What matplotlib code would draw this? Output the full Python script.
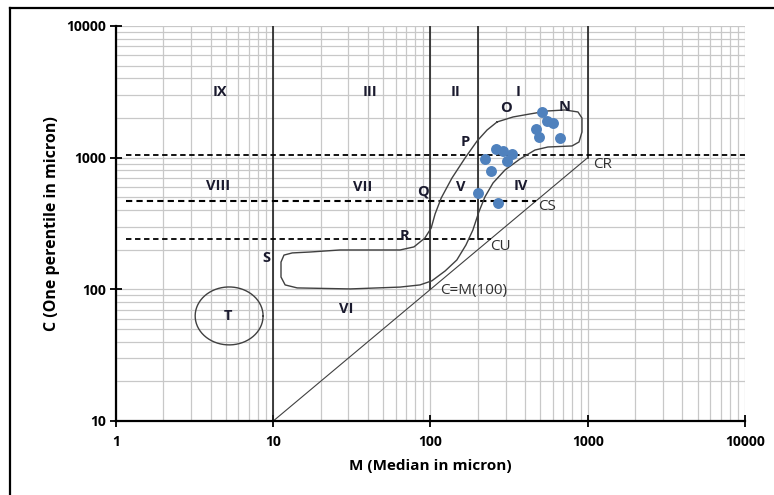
import numpy as np
import matplotlib.pyplot as plt
from matplotlib.lines import Line2D

plt.rcParams['font.family'] = ['Open Sans', 'DejaVu Sans']

# ******** sample points (M, C) ********
M_pts = [509, 548, 604, 469, 492, 666, 261, 290, 328, 222, 305, 241, 200, 270]
C_pts = [2213, 1909, 1844, 1643, 1443, 1404, 1164, 1124, 1067, 978, 944, 793, 542, 455]

# ******** limit lines ********
CR, CS, CU = 1050, 470, 241

# outline of the N-O-P-Q-R-S field, (M, C) pairs
outline_M = [265, 229, 198, 166, 137, 117, 107, 101, 92, 78.5, 64, 41, 26.6, 17.1, 13.2,
             11.7, 11.2, 11.2, 11.9, 14.2, 30.8, 64, 85.7, 102, 124, 147, 168, 186, 203,
             222, 250, 298, 371, 462, 558, 794, 880, 919, 919, 867, 716, 558, 429, 335, 265]
outline_C = [1867, 1622, 1340, 995, 701, 494, 374, 292, 245, 210, 199, 199, 199, 192, 189,
             182, 161, 124, 108, 102.5, 100.7, 104, 108, 116, 138, 167, 217, 282, 387,
             504, 643, 807, 977, 1143, 1205, 1227, 1315, 1567, 2000, 2223, 2303, 2263, 2147, 2037, 1867]

# ellipse T: centre and half axes in decades
T_center = (5.24, 62.8)
T_half = (0.216, 0.220)

zone_labels = ['IX', 'III', 'II', 'I', 'O', 'N', 'P', 'VIII', 'VII', 'Q', 'V', 'IV', 'R', 'S', 'T', 'VI']
zone_M = [4.59, 41.2, 145, 360, 302, 716, 166, 4.45, 37.2, 89.6, 156, 376, 68.8, 9.0, 5.15, 29.0]
zone_C = [3155, 3155, 3155, 3155, 2385, 2427, 1316, 610, 600, 549, 600, 610, 254, 173, 62.8, 71]

line_labels = ['CR', 'CS', 'CU', 'C=M(100)']
line_M = [1080, 483, 239, 115]
line_C = [880, 423, 210, 97.2]

fig = plt.figure(figsize=(7.74, 4.95), dpi=100)
ax = fig.add_axes([0.1499, 0.1495, 0.8126, 0.798])
ax.set_xscale('log')
ax.set_yscale('log')
ax.set_xlim(1, 10000)
ax.set_ylim(10, 10000)

ax.grid(which='both', color='#c8c8c8', lw=0.9)
ax.set_axisbelow(True)
for s in ['top', 'right']:
    ax.spines[s].set_visible(False)
for s in ['left', 'bottom']:
    ax.spines[s].set_linewidth(1.6)
ax.tick_params(which='major', direction='inout', length=8, width=1.3, labelsize=10)
ax.tick_params(which='minor', length=0)
ax.set_xticks([1, 10, 100, 1000, 10000])
ax.set_xticklabels(['1', '10', '100', '1000', '10000'], fontweight='bold')
ax.set_yticks([10, 100, 1000, 10000])
ax.set_yticklabels(['10', '100', '1000', '10000'], fontweight='bold')
ax.tick_params(axis='x', pad=6)

ax.set_xlabel('M (Median in micron)', fontsize=11, fontweight='bold', labelpad=7)
ax.set_ylabel('C (One perentile in micron)', fontsize=11.5, fontweight='bold', labelpad=4)

# zone boundaries
ax.plot([10, 10], [10, 10000], color='#202020', lw=1.2)
ax.plot([100, 100], [100, 10000], color='#202020', lw=1.2)
ax.plot([200, 200], [CU, 10000], color='#202020', lw=1.2)
ax.plot([1000, 1000], [1000, 10000], color='#202020', lw=1.2)
ax.plot([10, 1000], [10, 1000], color='#404040', lw=0.8)

dash = (0, (3, 2))
ax.plot([1.15, 10000], [CR, CR], color='black', lw=1.3, ls=dash)
ax.plot([1.15, CS], [CS, CS], color='black', lw=1.5, ls=dash)
ax.plot([1.15, CU], [CU, CU], color='black', lw=1.3, ls=dash)

ax.plot(outline_M, outline_C, color='#404040', lw=1.0, solid_joinstyle='round')

t = np.linspace(0, 2 * np.pi, 200)
ax.plot(10 ** (np.log10(T_center[0]) + T_half[0] * np.cos(t)),
        10 ** (np.log10(T_center[1]) + T_half[1] * np.sin(t)), color='#404040', lw=1.0)

ax.scatter(M_pts, C_pts, s=62, color='#4f81bd', zorder=5, linewidths=0)

for lab, m, c in zip(zone_labels, zone_M, zone_C):
    ax.text(m, c, lab, fontsize=10.5, fontweight='bold', color='#1a1a2e', ha='center', va='center')
for lab, m, c in zip(line_labels, line_M, line_C):
    ax.text(m, c, lab, fontsize=11, color='#303030', ha='left', va='center')

# chart frame
fig.add_artist(Line2D([10 / 774, 1.0], [1 - 8 / 495, 1 - 8 / 495], color='black', lw=1.6))
fig.add_artist(Line2D([10 / 774, 10 / 774], [0, 1 - 8 / 495], color='black', lw=1.6))

fig.savefig('out.png', dpi=100)
